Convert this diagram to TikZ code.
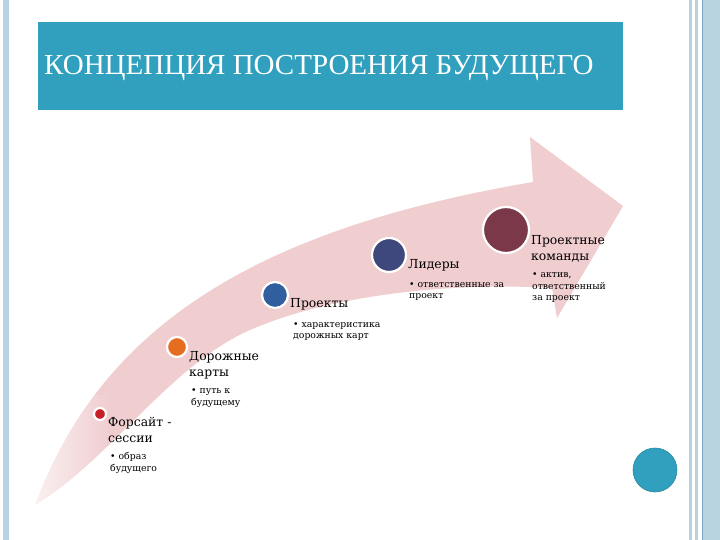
\documentclass[tikz,border=0pt]{standalone}
\usepackage{fontspec}
\usetikzlibrary{fadings}
\setmainfont{Liberation Serif}
\newfontfamily\lblfont{DejaVu Serif}
\definecolor{titlebg}{RGB}{49,160,190}
\definecolor{bandpink}{RGB}{240,205,207}
\definecolor{borderblue}{RGB}{183,211,224}
\definecolor{borderdark}{RGB}{120,168,198}
\definecolor{cred}{RGB}{200,32,40}
\definecolor{corange}{RGB}{230,108,32}
\definecolor{cblue}{RGB}{48,94,158}
\definecolor{cindigo}{RGB}{62,72,124}
\definecolor{cmaroon}{RGB}{122,56,72}
\tikzfading[name=tailfade, left color=transparent!25, right color=transparent!100]
\begin{document}
\begin{tikzpicture}[x=1pt,y=-1pt,
  dot/.style={circle,draw=white,line width=2.2pt,inner sep=0pt},
  mainlbl/.style={anchor=north west,inner sep=0pt,align=left,font=\lblfont\fontsize{12.4}{16.5}\selectfont},
  sublbl/.style={anchor=north west,inner sep=0pt,align=left,font=\lblfont\fontsize{9.3}{11.5}\selectfont}]
\useasboundingbox (0,0) rectangle (720,540);
\fill[white] (0,0) rectangle (720,540);
% borders
\fill[borderblue] (3,0) rectangle (9,540);
\fill[borderblue] (689,0) rectangle (692,540);
\fill[borderblue] (695,0) rectangle (698,540);
\fill[borderdark] (701.5,0) rectangle (703,540);
\fill[borderblue] (703,0) rectangle (720,540);
% title
\fill[titlebg] (38,22) rectangle (623,110);
\node[anchor=west,inner sep=0pt,text=white,font=\fontsize{29}{32}\selectfont] (title) at (44,68) {КОНЦЕПЦИЯ ПОСТРОЕНИЯ БУДУЩЕГО};
% arrow band
\fill[bandpink] (35,505) .. controls (100,330) and (250,230) .. (533,182)
  -- (530,137) -- (623,206) -- (557,318) -- (552,288)
  .. controls (450,282) and (330,295) .. (250,330)
  .. controls (170,365) and (110,460) .. (35,505) -- cycle;
\fill[white,path fading=tailfade] (30,395) rectangle (112,512);
% circles
\node[dot,fill=cred,minimum size=12pt] (c1) at (100,414) {};
\node[dot,fill=corange,minimum size=20pt] (c2) at (177,347) {};
\node[dot,fill=cblue,minimum size=26pt] (c3) at (275,295) {};
\node[dot,fill=cindigo,minimum size=34pt] (c4) at (389,255) {};
\node[dot,fill=cmaroon,minimum size=46pt] (c5) at (506,230) {};
\node[circle,fill=titlebg,draw=titlebg!85!black,line width=0.6pt,minimum size=44pt,inner sep=0pt] (c6) at (655,470) {};
% labels
\node[mainlbl] (l1) at (108,417) {Форсайт -\\сессии};
\node[sublbl] (s1) at (110,452.5) {• образ\\будущего};
\node[mainlbl] (l2) at (189,351) {Дорожные\\карты};
\node[sublbl] (s2) at (191,388.5) {• путь к\\будущему};
\node[mainlbl] (l3) at (290,298) {Проекты};
\node[sublbl] (s3) at (293,322) {• характеристика\\дорожных карт};
\node[mainlbl] (l4) at (408,259) {Лидеры};
\node[sublbl] (s4) at (409,282) {• ответственные за\\проект};
\node[mainlbl] (l5) at (531,235) {Проектные\\команды};
\node[sublbl] (s5) at (532,272.5) {• актив,\\ответственный\\за проект};
\end{tikzpicture}
\end{document}
